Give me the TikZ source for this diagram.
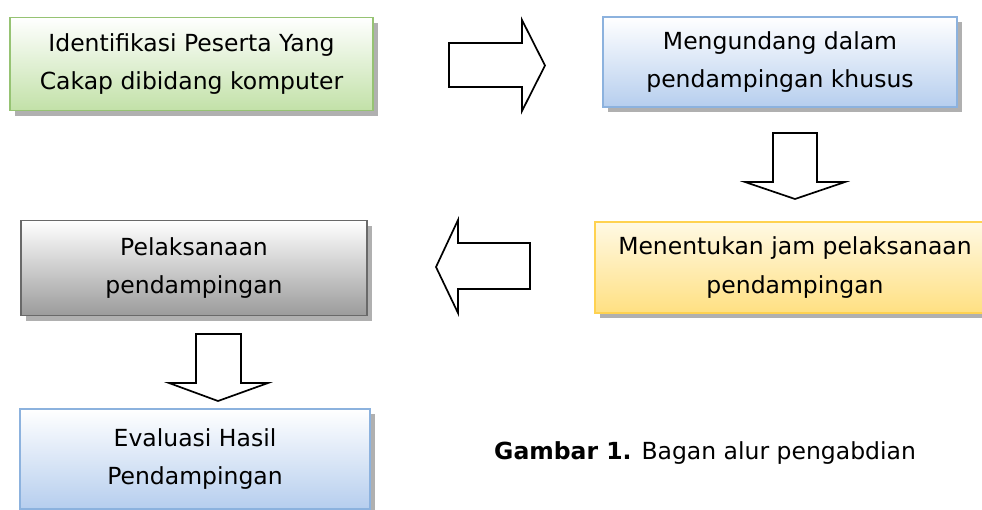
\documentclass[tikz,border=0pt]{standalone}
\usepackage{fontspec}
\setmainfont{DejaVu Sans}
\definecolor{greenB}{RGB}{150,195,115}
\definecolor{greenF}{RGB}{194,225,168}
\definecolor{blueB}{RGB}{140,178,222}
\definecolor{blueF}{RGB}{182,206,238}
\definecolor{grayB}{RGB}{105,105,105}
\definecolor{grayF}{RGB}{155,155,155}
\definecolor{yelB}{RGB}{255,210,80}
\definecolor{yelT}{RGB}{255,249,228}
\definecolor{yelF}{RGB}{255,224,130}
\definecolor{shadowC}{RGB}{150,150,150}
\usetikzlibrary{shadows}
\tikzset{
  boxbase/.style={draw, line width=1.8pt, align=center, inner sep=0pt,
    font=\fontsize{23.5}{38.5}\selectfont,
    drop shadow={shadow xshift=5pt, shadow yshift=-5pt, fill=shadowC, opacity=0.75}},
  greenbox/.style={boxbase, draw=greenB, top color=white, bottom color=greenF},
  bluebox/.style={boxbase, draw=blueB, top color=white, bottom color=blueF},
  graybox/.style={boxbase, draw=grayB, top color=white, bottom color=grayF},
  yelbox/.style={boxbase, draw=yelB, top color=yelT, bottom color=yelF},
  blockarrow/.style={draw=black, line width=1.7pt, fill=white, line join=miter}
}
\begin{document}
\begin{tikzpicture}[x=1pt,y=-1pt]
\useasboundingbox (0,0) rectangle (982,509);
% boxes
\node[greenbox, minimum width=363pt, minimum height=93pt] (b1) at (191.5,64)
  {Identifikasi Peserta Yang\\Cakap dibidang komputer};
\node[bluebox, minimum width=354pt, minimum height=90pt] (b2) at (780,62)
  {Mengundang dalam\\pendampingan khusus};
\node[yelbox, minimum width=400pt, minimum height=91pt] (b3) at (795,267.5)
  {Menentukan jam pelaksanaan\\pendampingan};
\node[graybox, minimum width=346pt, minimum height=95pt] (b4) at (194,268)
  {Pelaksanaan\\pendampingan};
\node[bluebox, minimum width=350pt, minimum height=100pt] (b5) at (195,459)
  {Evaluasi Hasil\\Pendampingan};
% block arrows
\draw[blockarrow] (449,43) -- (522,43) -- (522,20) -- (545,65.5) -- (522,111) -- (522,87) -- (449,87) -- cycle;
\draw[blockarrow] (773,133) -- (817,133) -- (817,182) -- (845,182) -- (795,199) -- (745,182) -- (773,182) -- cycle;
\draw[blockarrow] (530,243) -- (458,243) -- (458,220) -- (436,267) -- (458,313) -- (458,289) -- (530,289) -- cycle;
\draw[blockarrow] (196,334) -- (241,334) -- (241,383) -- (268,383) -- (218,401) -- (169,383) -- (196,383) -- cycle;
% caption
\node[anchor=base west, inner sep=0pt, font=\fontsize{23.5}{28}\selectfont] (cap) at (494,459)
  {\textbf{Gambar 1.} Bagan alur pengabdian};
\end{tikzpicture}
\end{document}
